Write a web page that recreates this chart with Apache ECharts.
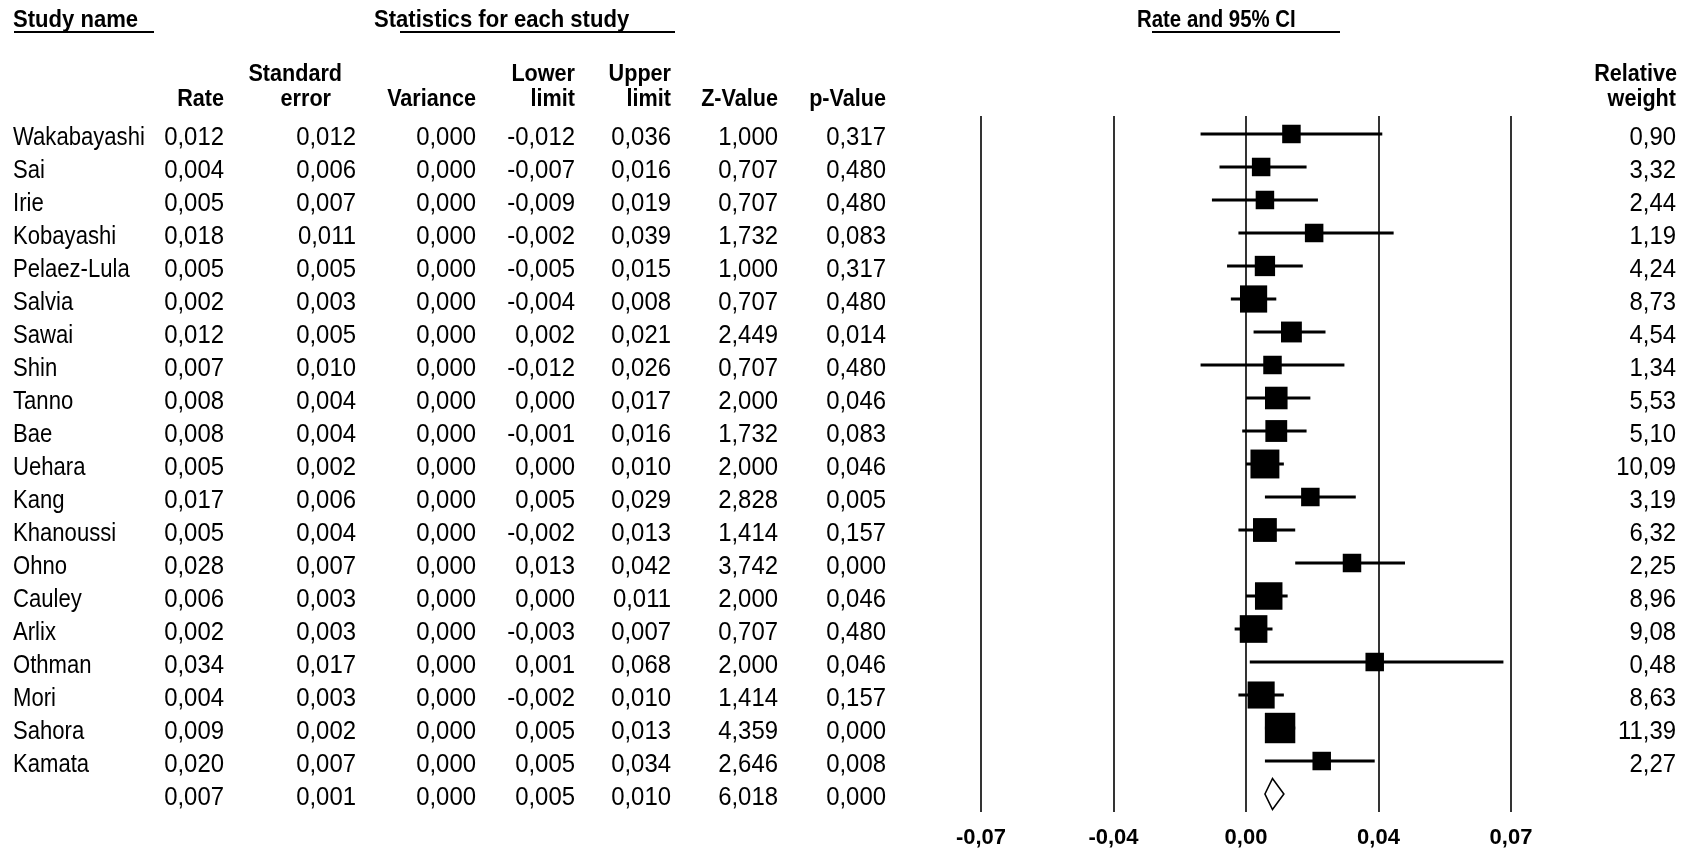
<!DOCTYPE html>
<html>
<head>
<meta charset="utf-8">
<script src="https://cdn.jsdelivr.net/npm/echarts@6/dist/echarts.min.js"></script>
<style>
html,body{margin:0;padding:0;background:#fff;}
#chart{width:1694px;height:852px;}
</style>
</head>
<body>
<div id="chart"></div>
<script>
// ---------------- data ----------------
const studies = ['Wakabayashi','Sai','Irie','Kobayashi','Pelaez-Lula','Salvia','Sawai','Shin','Tanno','Bae','Uehara','Kang','Khanoussi','Ohno','Cauley','Arlix','Othman','Mori','Sahora','Kamata'];
const rate     = [0.012,0.004,0.005,0.018,0.005,0.002,0.012,0.007,0.008,0.008,0.005,0.017,0.005,0.028,0.006,0.002,0.034,0.004,0.009,0.020];
const stdErr   = [0.012,0.006,0.007,0.011,0.005,0.003,0.005,0.010,0.004,0.004,0.002,0.006,0.004,0.007,0.003,0.003,0.017,0.003,0.002,0.007];
const variance = [0,0,0,0,0,0,0,0,0,0,0,0,0,0,0,0,0,0,0,0];
const lower    = [-0.012,-0.007,-0.009,-0.002,-0.005,-0.004,0.002,-0.012,0.000,-0.001,0.000,0.005,-0.002,0.013,0.000,-0.003,0.001,-0.002,0.005,0.005];
const upper    = [0.036,0.016,0.019,0.039,0.015,0.008,0.021,0.026,0.017,0.016,0.010,0.029,0.013,0.042,0.011,0.007,0.068,0.010,0.013,0.034];
const zValue   = [1.000,0.707,0.707,1.732,1.000,0.707,2.449,0.707,2.000,1.732,2.000,2.828,1.414,3.742,2.000,0.707,2.000,1.414,4.359,2.646];
const pValue   = [0.317,0.480,0.480,0.083,0.317,0.480,0.014,0.480,0.046,0.083,0.046,0.005,0.157,0.000,0.046,0.480,0.046,0.157,0.000,0.008];
const relWeight= [0.90,3.32,2.44,1.19,4.24,8.73,4.54,1.34,5.53,5.10,10.09,3.19,6.32,2.25,8.96,9.08,0.48,8.63,11.39,2.27];
// summary (combined) row: rate, se, variance, lower, upper, z, p
const summaryRow = [0.007,0.001,0.000,0.005,0.010,6.018,0.000];
const xTickValues = [-0.07,-0.035,0,0.035,0.07];
const xTickLabels = ['-0,07','-0,04','0,00','0,04','0,07'];

// ---------------- layout/style ----------------
const FONT = "'Liberation Sans', Arial, sans-serif";
const N = studies.length;

const fmt = (v, d) => { const s = v.toFixed(d); return (s === '-0.000' ? '0.000' : s).replace('.', ','); };

const chart = echarts.init(document.getElementById('chart'), null, {renderer:'canvas'});

const studyData = studies.map((s, i) => [rate[i], lower[i], upper[i], relWeight[i], i]);
const boxSize = w => Math.max(18.5, 4.45 + 7.7 * Math.sqrt(w));

chart.setOption({
  animation: false,
  backgroundColor: '#ffffff',
  grid: {left: 981, width: 530, top: 116, height: 696, containLabel: false},
  xAxis: {
    type: 'value', min: -0.07, max: 0.07, interval: 0.035,
    axisLine: {show: false}, axisTick: {show: false},
    splitLine: {show: true, lineStyle: {color: '#000', width: 1.6}},
    axisLabel: {
      margin: 15, color: '#000', fontFamily: FONT, fontWeight: 'bold', fontSize: 22,
      formatter: v => { const k = xTickValues.findIndex(t => Math.abs(t - v) < 1e-9); return k >= 0 ? xTickLabels[k] : ''; }
    }
  },
  yAxis: {
    type: 'value', inverse: true, min: -0.545, max: 20.545,
    show: false, splitLine: {show: false}
  },
  series: [
    {
      type: 'custom',
      data: studyData,
      encode: {x: 0, y: 4},
      renderItem: (params, api) => {
        const idx = api.value(4);
        const c = api.coord([api.value(0), idx]);
        const xl = api.coord([api.value(1), idx])[0];
        const xu = api.coord([api.value(2), idx])[0];
        const s = boxSize(api.value(3));
        return {
          type: 'group',
          children: [
            {type: 'line', shape: {x1: xl, y1: c[1], x2: xu, y2: c[1]}, style: {stroke: '#000', lineWidth: 3}},
            {type: 'rect', shape: {x: c[0] - s / 2, y: c[1] - s / 2, width: s, height: s}, style: {fill: '#000'}}
          ]
        };
      }
    },
    {
      type: 'custom',
      data: [[summaryRow[0], summaryRow[3], summaryRow[4], N]],
      encode: {x: 0, y: 3},
      renderItem: (params, api) => {
        const idx = api.value(3);
        const c = api.coord([api.value(0), idx]);
        const xl = api.coord([api.value(1), idx])[0];
        const xu = api.coord([api.value(2), idx])[0];
        const h = 31;
        return {
          type: 'polygon',
          shape: {points: [[xl, c[1]], [c[0], c[1] - h / 2], [xu, c[1]], [c[0], c[1] + h / 2]]},
          style: {fill: '#fff', stroke: '#000', lineWidth: 1.6}
        };
      }
    }
  ]
});

// ---------------- table text (graphic) ----------------
const rowY = i => chart.convertToPixel({gridIndex: 0}, [0, i])[1];
const g = [];
const txt = (text, x, y, align, bold, fs, sx) => g.push({
  type: 'text', x: x, y: y, scaleX: sx || 1, silent: true,
  style: {text: text, fill: '#000', font: (bold ? 'bold ' : '') + fs + 'px ' + FONT, align: align, verticalAlign: 'middle'}
});
const line = (x1, x2, y) => g.push({type: 'line', silent: true, shape: {x1: x1, y1: y, x2: x2, y2: y}, style: {stroke: '#000', lineWidth: 1.8}});

const TITLE_FS = 24, TITLE_SX = 0.92;
const HEAD_FS = 24, HEAD_SX = 0.9;
const ROW_FS = 26, NUM_SX = 0.92, NAME_SX = 0.85;

// titles
txt('Study name', 13, 20, 'left', true, TITLE_FS, TITLE_SX);
txt('Statistics for each study', 374, 20, 'left', true, TITLE_FS, TITLE_SX);
txt('Rate and 95% CI', 1137, 20, 'left', true, TITLE_FS, 0.85);
line(14, 154, 32); line(400, 675, 32); line(1152, 1340, 32);

// column headers
const colRight = {rate: 224, se: 356, variance: 476, lower: 575, upper: 671, z: 778, p: 886, weight: 1676};
const H1 = 74, H2 = 99;
const head = (t, x, y) => txt(t, x, y, 'right', true, HEAD_FS, HEAD_SX);
head('Rate', colRight.rate, H2);
head('Standard', 342, H1);
head('error', 331, H2);
head('Variance', colRight.variance, H2);
head('Lower', colRight.lower, H1);
head('limit', colRight.lower, H2);
head('Upper', colRight.upper, H1);
head('limit', colRight.upper, H2);
head('Z-Value', colRight.z, H2);
head('p-Value', colRight.p, H2);
head('Relative', colRight.weight + 1, H1);
head('weight', colRight.weight, H2);

// study rows
const num = (t, x, y) => txt(t, x, y, 'right', false, ROW_FS, NUM_SX);
for (let i = 0; i < N; i++) {
  const y = rowY(i) + 4;
  txt(studies[i], 13, y, 'left', false, ROW_FS, NAME_SX);
  num(fmt(rate[i], 3), colRight.rate, y);
  num(fmt(stdErr[i], 3), colRight.se, y);
  num(fmt(variance[i], 3), colRight.variance, y);
  num(fmt(lower[i], 3), colRight.lower, y);
  num(fmt(upper[i], 3), colRight.upper, y);
  num(fmt(zValue[i], 3), colRight.z, y);
  num(fmt(pValue[i], 3), colRight.p, y);
  num(fmt(relWeight[i], 2), colRight.weight, y);
}
// summary row
{
  const y = rowY(N) + 4;
  const keys = ['rate', 'se', 'variance', 'lower', 'upper', 'z', 'p'];
  keys.forEach((k, j) => num(fmt(summaryRow[j], 3), colRight[k], y));
}

chart.setOption({graphic: {elements: g}});
</script>
</body>
</html>
